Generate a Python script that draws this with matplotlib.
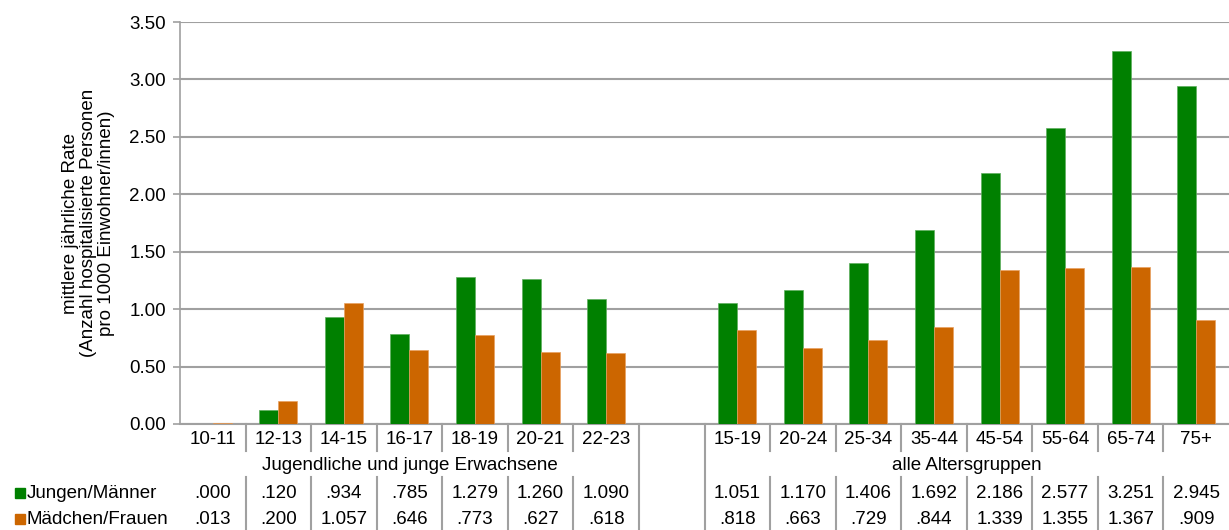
import matplotlib
matplotlib.use("Agg")
import matplotlib.pyplot as plt
import matplotlib.transforms as mtransforms
from matplotlib.patches import Rectangle

plt.rcParams["font.family"] = ["Liberation Sans", "DejaVu Sans"]

# ---- DATA ----
group1_labels = ["10-11", "12-13", "14-15", "16-17", "18-19", "20-21", "22-23"]
group2_labels = ["15-19", "20-24", "25-34", "35-44", "45-54", "55-64", "65-74", "75+"]
group1_name = "Jugendliche und junge Erwachsene"
group2_name = "alle Altersgruppen"

male_g1 = [0.000, 0.120, 0.934, 0.785, 1.279, 1.260, 1.090]
female_g1 = [0.013, 0.200, 1.057, 0.646, 0.773, 0.627, 0.618]
male_g2 = [1.051, 1.170, 1.406, 1.692, 2.186, 2.577, 3.251, 2.945]
female_g2 = [0.818, 0.663, 0.729, 0.844, 1.339, 1.355, 1.367, 0.909]

series_names = ["Jungen/Männer", "Mädchen/Frauen"]
yticks = [0.0, 0.5, 1.0, 1.5, 2.0, 2.5, 3.0, 3.5]

# ---- STYLE ----
GREEN = "#008000"
ORANGE = "#cc6600"
GRID = "#a0a0a0"
FS = 13.5


def fmt(v):
    s = "%.3f" % v
    return s[1:] if s.startswith("0") else s


fig = plt.figure(figsize=(12.29, 5.30), dpi=100)
ax = fig.add_axes([180 / 1229, 1 - 424 / 530, 1 - 180 / 1229, (424 - 22) / 530])

# slot positions: group 1, one empty slot, group 2
x1 = list(range(len(group1_labels)))
x2 = [len(group1_labels) + 1 + i for i in range(len(group2_labels))]
xs = x1 + x2
labels = group1_labels + group2_labels
males = male_g1 + male_g2
females = female_g1 + female_g2
nslots = len(xs) + 1

bw = 0.29
ax.bar([x - bw / 2 for x in xs], males, width=bw, color=GREEN,
       edgecolor="#5fae5f", linewidth=0.5, zorder=3)
ax.bar([x + bw / 2 for x in xs], females, width=bw, color=ORANGE,
       edgecolor="#e8a060", linewidth=0.5, zorder=3)

ax.set_xlim(-0.5, nslots - 0.5)
ax.set_ylim(0, 3.5)
ax.set_yticks(yticks)
ax.set_yticklabels(["%.2f" % t for t in yticks], fontsize=FS)
ax.set_xticks([])
ax.yaxis.grid(True, color=GRID, linewidth=1.5, zorder=0)
ax.tick_params(axis="y", length=5, color=GRID, width=1.2, pad=5)
for side in ["top", "right"]:
    ax.spines[side].set_visible(False)
ax.spines["left"].set_color(GRID)
ax.spines["left"].set_linewidth(1.2)
ax.spines["bottom"].set_color(GRID)
ax.spines["bottom"].set_linewidth(1.5)

ax.set_ylabel("mittlere jährliche Rate\n(Anzahl hospitalisierte Personen\npro 1000 Einwohner/innen)",
              fontsize=13.5, labelpad=10, linespacing=1.1)

# ---- TABLE BELOW ----
h = 402.0  # axes height in px


def ay(py):
    return (424 - py) / h


trans = mtransforms.blended_transform_factory(ax.transData, ax.transAxes)
line_kw = dict(color=GRID, linewidth=1.5, clip_on=False, transform=trans)

for x, lab, m, f in zip(xs, labels, males, females):
    ax.text(x, ay(440), lab, ha="center", va="center", fontsize=FS, transform=trans, clip_on=False)
    ax.text(x, ay(493), fmt(m), ha="center", va="center", fontsize=FS, transform=trans, clip_on=False)
    ax.text(x, ay(519), fmt(f), ha="center", va="center", fontsize=FS, transform=trans, clip_on=False)

ax.text((x1[0] + x1[-1]) / 2, ay(466), group1_name, ha="center", va="center",
        fontsize=FS, transform=trans, clip_on=False)
ax.text((x2[0] + x2[-1]) / 2, ay(466), group2_name, ha="center", va="center",
        fontsize=FS, transform=trans, clip_on=False)

# inner vertical lines
for grp in (x1, x2):
    for a in grp[:-1]:
        b = a + 0.5
        ax.plot([b, b], [ay(424), ay(451)], **line_kw)
        ax.plot([b, b], [ay(477), ay(530)], **line_kw)
# empty column borders
for b in (x1[-1] + 0.5, x2[0] - 0.5):
    ax.plot([b, b], [ay(424), ay(530)], **line_kw)

# horizontal line between the two data rows
ax.add_line(plt.Line2D([8 / 1229, 1.0], [1 - 505 / 530, 1 - 505 / 530],
                       color=GRID, linewidth=1.5, transform=fig.transFigure))

# legend keys in the table rows
for py, col, name in [(493, GREEN, series_names[0]), (519, ORANGE, series_names[1])]:
    fig.patches.append(Rectangle((15 / 1229, 1 - (py + 5) / 530), 10 / 1229, 10 / 530,
                                 color=col, transform=fig.transFigure))
    fig.text(27 / 1229, 1 - py / 530, name, ha="left", va="center", fontsize=FS)

fig.savefig("out.png", dpi=100)
